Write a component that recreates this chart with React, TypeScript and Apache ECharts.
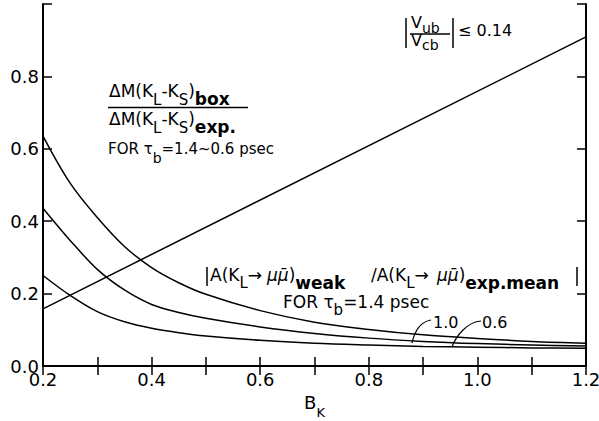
import React, { useEffect, useRef } from 'react';
import * as echarts from 'echarts';

// B_K sample positions (x axis)
const bkValues = [0.2, 0.25, 0.3, 0.35, 0.4, 0.45, 0.5, 0.6, 0.7, 0.8, 0.9, 1.0, 1.1, 1.2];
// three decreasing curves
const curveUpper = [0.635, 0.505, 0.41, 0.33, 0.272, 0.23, 0.198, 0.153, 0.121, 0.101, 0.086, 0.076, 0.068, 0.063];
const curveMiddle = [0.436, 0.347, 0.267, 0.21, 0.17, 0.148, 0.132, 0.108, 0.09, 0.077, 0.068, 0.062, 0.058, 0.055];
const curveLower = [0.25, 0.195, 0.15, 0.122, 0.104, 0.092, 0.083, 0.071, 0.063, 0.058, 0.054, 0.052, 0.05, 0.049];
// straight line (ΔM box / ΔM exp)
const lineBk = [0.2, 1.2];
const lineValues = [0.158, 0.909];

const xLabels = ['0.2', '0.4', '0.6', '0.8', '1.0', '1.2'];
const yLabels = ['0.0', '0.2', '0.4', '0.6', '0.8'];

const FONT = 'DejaVu Sans';

const pairs = (xs: number[], ys: number[]) => xs.map((x, i) => [x, ys[i]]);

const rich = {
  m: { fontSize: 16, fontFamily: FONT, lineHeight: 20, verticalAlign: 'top', fill: '#000' },
  f: { fontSize: 15, fontFamily: FONT, lineHeight: 20, verticalAlign: 'top', fill: '#000' },
  s: { fontSize: 14, fontFamily: FONT, lineHeight: 24, verticalAlign: 'bottom', fill: '#000' },
  s2: { fontSize: 14, fontFamily: FONT, lineHeight: 20, verticalAlign: 'bottom', fill: '#000' },
  M: { fontSize: 17, fontFamily: FONT, lineHeight: 20, verticalAlign: 'top', fill: '#000' },
  Mi: { fontSize: 17, fontFamily: FONT, lineHeight: 20, verticalAlign: 'top', fontStyle: 'italic', fill: '#000' },
  S: { fontSize: 15, fontFamily: FONT, lineHeight: 24.5, verticalAlign: 'bottom', fill: '#000' },
  SB: { fontSize: 17, fontFamily: FONT, fontWeight: 'bold', lineHeight: 25.5, verticalAlign: 'bottom', fill: '#000' },
};

const txt = (x: number, y: number, text: string) => ({
  type: 'text',
  x,
  y,
  silent: true,
  style: { text, rich, fill: '#000', align: 'left', verticalAlign: 'top', fontFamily: FONT, fontSize: 16 },
});

const seg = (x1: number, y1: number, x2: number, y2: number, w = 1.5) => ({
  type: 'line',
  silent: true,
  shape: { x1, y1, x2, y2 },
  style: { stroke: '#000', lineWidth: w },
});

const curveStyle = { color: '#000', width: 1.5 };

export default function App() {
  const ref = useRef<HTMLDivElement>(null);
  useEffect(() => {
    document.body.style.margin = '0';
    const chart = echarts.init(ref.current!, null, { renderer: 'svg' });
    const xFmt = (v: number) => {
      const s = (Math.round(v * 10) / 10).toFixed(1);
      return xLabels.includes(s) ? s : '';
    };
    const yFmt = (v: number) => {
      const s = (Math.round(v * 10) / 10).toFixed(1);
      return yLabels.includes(s) ? s : '';
    };
    const axisLine = { show: true, lineStyle: { color: '#000', width: 2 } };
    const tick = { show: true, inside: true, length: 9, lineStyle: { color: '#000', width: 1.5 } };
    chart.setOption({
      animation: false,
      backgroundColor: '#fff',
      grid: { left: 43, right: 13, top: 4, bottom: 55, outerBoundsMode: 'none', containLabel: false },
      xAxis: [
        {
          type: 'value', min: 0.2, max: 1.2, interval: 0.1, position: 'bottom',
          axisLine, axisTick: tick, splitLine: { show: false },
          axisLabel: { formatter: xFmt, fontSize: 18, lineHeight: 12, fontFamily: FONT, color: '#000', margin: 7 },
          name: '{b|B}{k|K}', nameLocation: 'middle', nameGap: 27,
          nameTextStyle: {
            rich: {
              b: { fontSize: 18, fontFamily: FONT, color: '#000', lineHeight: 22, verticalAlign: 'top' },
              k: { fontSize: 13, fontFamily: FONT, color: '#000', lineHeight: 25.5, verticalAlign: 'bottom' },
            },
          },
        },
        {
          type: 'value', min: 0.2, max: 1.2, interval: 0.1, position: 'top',
          axisLine, axisTick: tick, splitLine: { show: false }, axisLabel: { show: false },
        },
      ],
      yAxis: [
        {
          type: 'value', min: 0, max: 1.0, interval: 0.2, position: 'left',
          axisLine, axisTick: tick, splitLine: { show: false },
          axisLabel: {
            formatter: yFmt, fontSize: 18, lineHeight: 12, fontFamily: FONT, color: '#000', margin: 4,
            padding: [0, 0, 4, 0],
          },
        },
        {
          type: 'value', min: 0, max: 1.0, interval: 0.2, position: 'right',
          axisLine, axisTick: tick, splitLine: { show: false }, axisLabel: { show: false },
        },
      ],
      series: [
        { type: 'line', data: pairs(lineBk, lineValues), showSymbol: false, lineStyle: curveStyle },
        { type: 'line', data: pairs(bkValues, curveUpper), showSymbol: false, smooth: 0.35, lineStyle: curveStyle },
        { type: 'line', data: pairs(bkValues, curveMiddle), showSymbol: false, smooth: 0.35, lineStyle: curveStyle },
        { type: 'line', data: pairs(bkValues, curveLower), showSymbol: false, smooth: 0.35, lineStyle: curveStyle },
      ],
      graphic: [
        // ΔM fraction
        txt(109, 82, '{M|ΔM(K}{S|L}{M|-K}{S|S}{M|)}{SB|box}'),
        seg(108, 107.5, 248, 107.5),
        txt(109, 110, '{M|ΔM(K}{S|L}{M|-K}{S|S}{M|)}{SB|exp.}'),
        txt(108, 141, '{f|FOR τ}{s|b}{f|=1.4~0.6 psec}'),
        // |Vub/Vcb| ≤ 0.14
        seg(406, 18, 406, 48),
        txt(411, 14.5, '{m|V}{s2|ub}'),
        seg(410, 34, 450, 34),
        txt(411, 32, '{m|V}{s2|cb}'),
        seg(453, 18, 453, 48),
        txt(458, 22.5, '{m|≤ 0.14}'),
        // |A(KL→μμ)weak / A(KL→μμ)exp.mean|
        seg(207, 267, 207, 286),
        txt(210, 266, '{M|A(K}{S|L}{M|→}'),
        txt(267, 266, '{Mi|μμ\u0304}{M|)}{SB|weak}'),
        txt(371, 266, '{M|/A(K}{S|L}{M|→}'),
        txt(437, 266, '{Mi|μμ\u0304}{M|)}{SB|exp.mean}'),
        seg(577, 267, 577, 286),
        txt(283, 293, '{M|FOR τ}{S|b}{M|=1.4 psec}'),
        // curve labels
        txt(433, 314, '{m|1.0}'),
        txt(482, 314, '{m|0.6}'),
        {
          type: 'bezierCurve', silent: true,
          shape: { x1: 431, y1: 320, cpx1: 419, cpy1: 322, cpx2: 414, cpy2: 334, x2: 412, y2: 343 },
          style: { stroke: '#000', lineWidth: 1.2, fill: 'none' },
        },
        {
          type: 'bezierCurve', silent: true,
          shape: { x1: 481, y1: 321, cpx1: 467, cpy1: 322, cpx2: 456, cpy2: 336, x2: 452, y2: 347 },
          style: { stroke: '#000', lineWidth: 1.2, fill: 'none' },
        },
      ],
    });
    return () => chart.dispose();
  }, []);
  return <div ref={ref} style={{ width: 599, height: 421 }} />;
}
